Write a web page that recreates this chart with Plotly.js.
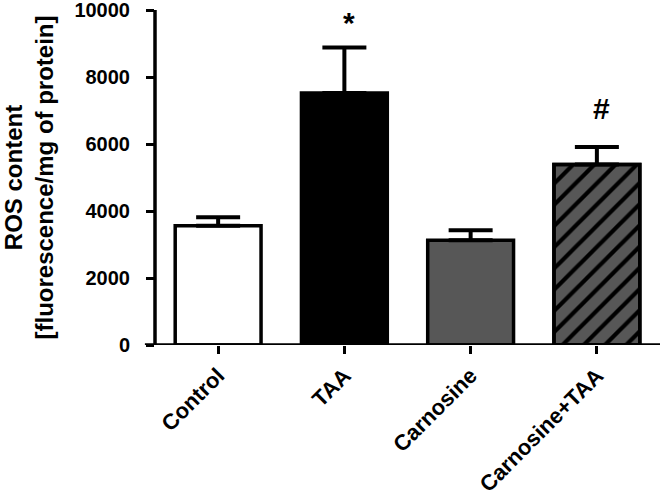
<!DOCTYPE html>
<html>
<head>
<meta charset="utf-8">
<script src="https://cdn.plot.ly/plotly-3.0.1.min.js"></script>
<style>html,body{margin:0;padding:0;background:#fff;}#chart{width:661px;height:498px;}</style>
</head>
<body>
<div id="chart"></div>
<script>
const categories = ['Control', 'TAA', 'Carnosine', 'Carnosine+TAA'];
const rosMean = [3560, 7530, 3130, 5390];
const rosSem = [260, 1360, 300, 530];
const significance = ['', '*', '', '#'];
const yTicks = [0, 2000, 4000, 6000, 8000, 10000];
const barColors = ['#ffffff', '#000000', '#575757', '#575757'];
const hatched = [false, false, false, true];

const fontFam = 'Liberation Sans, Arial, sans-serif';

const allIdx = categories.map((c, i) => i);
const hatchIdx = allIdx.filter(i => hatched[i]);

// solid bars (all categories)
const baseTrace = {
  type: 'bar',
  x: categories,
  y: rosMean,
  width: 0.68,
  marker: {color: barColors, line: {color: '#000000', width: 3.5}},
  error_y: {type: 'data', array: rosSem, arrayminus: rosSem.map(() => 0), symmetric: false, visible: true, color: '#000000', thickness: 4, width: 22},
  hoverinfo: 'none'
};
// hatching drawn over the hatched bars
const hatchTrace = {
  type: 'bar',
  x: hatchIdx.map(i => categories[i]),
  y: hatchIdx.map(i => rosMean[i]),
  width: 0.68,
  marker: {
    color: 'rgba(0,0,0,0)',
    line: {color: '#000000', width: 3.5},
    pattern: {shape: '/', fillmode: 'replace', bgcolor: 'rgba(0,0,0,0)', fgcolor: '#000000', fgopacity: 1, size: 15, solidity: 0.28}
  },
  hoverinfo: 'none'
};

const annotations = categories.map((c, i) => significance[i] ? ({
  x: c, xref: 'x', y: rosMean[i] + rosSem[i], yref: 'y',
  text: significance[i], showarrow: false, xanchor: 'center', yanchor: 'bottom',
  xshift: 5, yshift: significance[i] === '*' ? 6 : 20,
  font: {family: fontFam, size: 30, color: '#000', weight: 'bold'}
}) : null).filter(Boolean);

const layout = {
  width: 661, height: 498,
  margin: {l: 155, r: 1, t: 10, b: 153, pad: 0},
  paper_bgcolor: '#ffffff', plot_bgcolor: '#ffffff',
  showlegend: false,
  barmode: 'overlay',
  font: {family: fontFam, color: '#000'},
  xaxis: {
    type: 'category', categoryorder: 'array', categoryarray: categories, range: [-0.5, 3.5],
    showline: false, showgrid: false, zeroline: false,
    ticks: 'outside', ticklen: 8, tickwidth: 3, tickcolor: '#000',
    tickangle: -45,
    tickfont: {family: fontFam, size: 22, color: '#000', weight: 'bold'}
  },
  yaxis: {
    range: [0, 10010], tickvals: yTicks, ticktext: yTicks.map(String),
    showline: false, showgrid: false, zeroline: false,
    ticks: 'outside', ticklen: 8, tickwidth: 3, tickcolor: '#000',
    ticklabelstandoff: 12, ticklabeloverflow: 'allow',
    tickfont: {family: fontFam, size: 20, color: '#000', weight: 'bold'},
    title: {text: 'ROS content<br>[fluorescence/mg of protein]', standoff: 24,
      font: {family: fontFam, size: 24, color: '#000', weight: 'bold'}}
  },
  shapes: [
    {type: 'line', xref: 'paper', yref: 'y', x0: -0.02, x1: 1, y0: 0, y1: 0, line: {color: '#000', width: 3.5}},
    {type: 'line', xref: 'paper', yref: 'paper', x0: 0, x1: 0, y0: 0, y1: 1, line: {color: '#000', width: 3.5}}
  ],
  annotations: annotations
};

Plotly.newPlot('chart', [baseTrace, hatchTrace], layout, {staticPlot: true, displayModeBar: false});
</script>
</body>
</html>
